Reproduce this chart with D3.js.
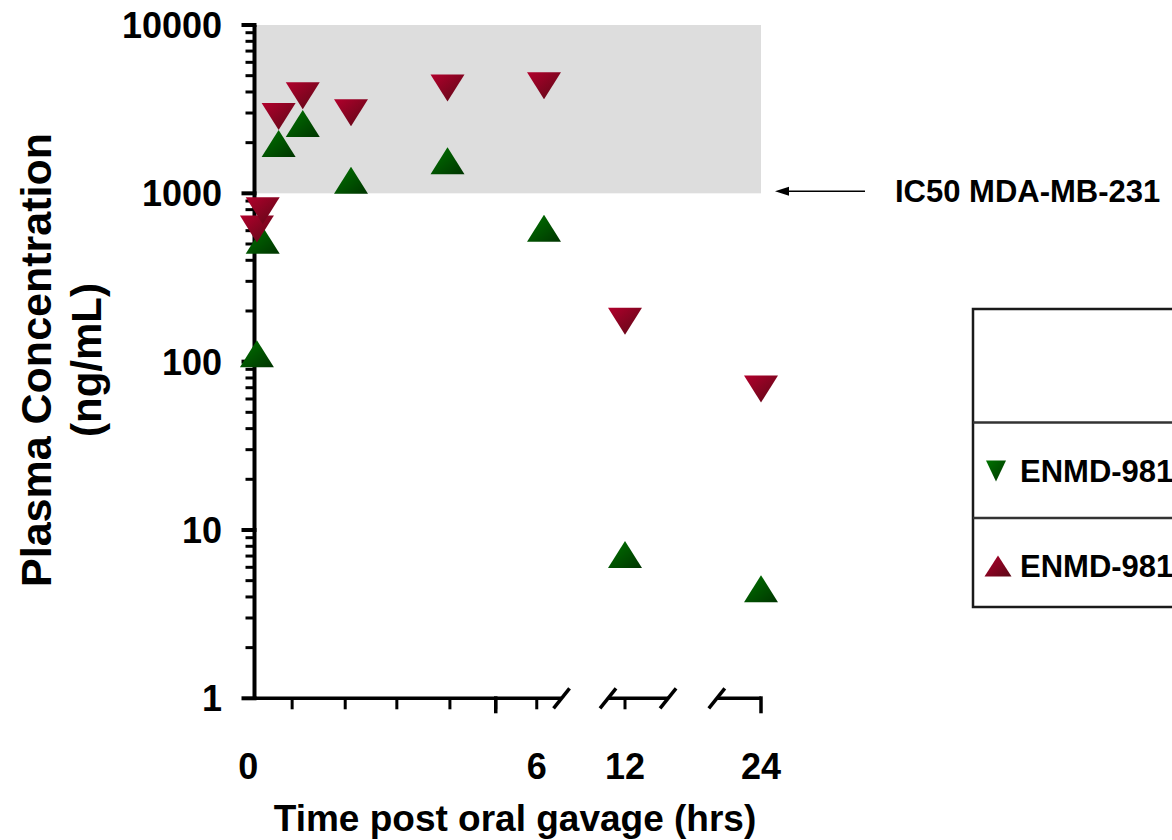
<!DOCTYPE html>
<html><head><meta charset="utf-8">
<script src="https://cdn.jsdelivr.net/npm/d3@7"></script>
<style>
body{margin:0;background:#fff}
svg{display:block}
text{font-family:"Liberation Sans",Arial,sans-serif;font-weight:bold;fill:#000}
</style>
</head><body>
<svg id="chart" width="1172" height="840"></svg>
<script>
// ---- data ----
const timesHrs     = [0.05, 0.17, 0.5, 1, 2, 4, 6, 12, 24];
const greenSeries  = [111.6, 526, 1974, 2596, 1196, 1562, 621, 7.15, 4.48];   // drawn as up-triangles
const redSeries    = [613, 789, 2857, 3802, 3006, 4230, 4357, 174, 68.8];      // drawn as down-triangles
const yTickValues  = [1, 10, 100, 1000, 10000];
const yTickLabels  = ["1", "10", "100", "1000", "10000"];
const xMinorTickHrs = [0.78, 1.88, 2.95, 4.05, 5, 5.85, 12];
const xLongTickHrs  = [5, 24];
const xTickLabels   = ["0", "6", "12", "24"];
const xTickLabelHrs = [-0.13, 5.85, 12, 24];
const xAxisSegmentsHrs = [[0, 7.3], [10.74, 15.8], [20.1, 24]];
const xBreakHrs     = [7.3, 10.74, 15.8, 20.1];
const icBand        = [1000, 10000];
const icLabel       = "IC50 MDA-MB-231";
const legendLabels  = ["ENMD-981", "ENMD-981"];
const xTitle = "Time post oral gavage (hrs)";
const yTitleLines = ["Plasma Concentration", "(ng/mL)"];

const svg = d3.select("#chart");
const x = d3.scaleLinear().domain([0, 6, 12, 24]).range([254.5, 544, 625, 761]);
const y = d3.scaleLog().domain([1, 10000]).range([698.3, 25]);

// gradients
const defs = svg.append("defs");
function grad(id, c1, c2) {
  const g = defs.append("linearGradient").attr("id", id)
    .attr("x1", 0).attr("y1", 0).attr("x2", 1).attr("y2", 1);
  g.append("stop").attr("offset", "0%").attr("stop-color", c1);
  g.append("stop").attr("offset", "100%").attr("stop-color", c2);
}
grad("gGreen", "#007400", "#003400");
grad("gRed", "#b2002c", "#5a0816");

// IC50 band
svg.append("rect")
  .attr("x", x(0)).attr("y", y(icBand[1]))
  .attr("width", x(24) - x(0)).attr("height", y(icBand[0]) - y(icBand[1]))
  .attr("fill", "#dddddd");

// y axis
const ax = x(0);
svg.append("line").attr("x1", ax).attr("x2", ax).attr("y1", y(10000)).attr("y2", y(1))
  .attr("stroke", "#000").attr("stroke-width", 4);
const minors = [];
[1, 10, 100, 1000].forEach(d => { for (let k = 2; k <= 9; k++) minors.push(d * k); });
svg.selectAll(".ymin").data(minors).enter().append("line")
  .attr("x1", ax - 9).attr("x2", ax).attr("y1", d => y(d)).attr("y2", d => y(d))
  .attr("stroke", "#000").attr("stroke-width", 3);
svg.selectAll(".ymaj").data(yTickValues).enter().append("line")
  .attr("x1", ax - 13).attr("x2", ax + 2).attr("y1", d => y(d)).attr("y2", d => y(d))
  .attr("stroke", "#000").attr("stroke-width", 4);
svg.selectAll(".ylab").data(yTickValues).enter().append("text")
  .attr("x", 222).attr("y", d => y(d) + 13)
  .attr("text-anchor", "end").attr("font-size", 36)
  .text((d, i) => yTickLabels[i]);

// x axis segments
const xa = y(1);
svg.selectAll(".xseg").data(xAxisSegmentsHrs).enter().append("line")
  .attr("x1", d => x(d[0])).attr("x2", d => x(d[1]))
  .attr("y1", xa).attr("y2", xa)
  .attr("stroke", "#000").attr("stroke-width", 3.5);
svg.selectAll(".xbrk").data(xBreakHrs).enter().append("line")
  .attr("x1", d => x(d) - 8).attr("x2", d => x(d) + 8)
  .attr("y1", xa + 10).attr("y2", xa - 10)
  .attr("stroke", "#000").attr("stroke-width", 3.5);
svg.selectAll(".xtk").data(xMinorTickHrs).enter().append("line")
  .attr("x1", d => x(d)).attr("x2", d => x(d)).attr("y1", xa).attr("y2", xa + 11)
  .attr("stroke", "#000").attr("stroke-width", 3);
svg.selectAll(".xtkl").data(xLongTickHrs).enter().append("line")
  .attr("x1", d => x(d)).attr("x2", d => x(d)).attr("y1", xa - 2).attr("y2", xa + 15)
  .attr("stroke", "#000").attr("stroke-width", 3.5);
svg.selectAll(".xlab").data(xTickLabelHrs).enter().append("text")
  .attr("x", d => x(d)).attr("y", 779)
  .attr("text-anchor", "middle").attr("font-size", 36)
  .text((d, i) => xTickLabels[i]);

// titles
svg.append("text").attr("x", 515).attr("y", 831).attr("text-anchor", "middle")
  .attr("font-size", 37).text(xTitle);
const yt = svg.append("g").attr("transform", "translate(51,360) rotate(-90)");
yt.append("text").attr("x", 0).attr("y", 0).attr("text-anchor", "middle")
  .attr("font-size", 43).text(yTitleLines[0]);
yt.append("text").attr("x", 0).attr("y", 50).attr("text-anchor", "middle")
  .attr("font-size", 42).text(yTitleLines[1]);

// triangle path
function tri(cx, cy, w, h, up) {
  return up
    ? `M${cx},${cy - h / 2}L${cx + w / 2},${cy + h / 2}L${cx - w / 2},${cy + h / 2}Z`
    : `M${cx - w / 2},${cy - h / 2}L${cx + w / 2},${cy - h / 2}L${cx},${cy + h / 2}Z`;
}

// markers: green first (red overlays it)
svg.selectAll(".g").data(greenSeries).enter().append("path")
  .attr("d", (d, i) => tri(x(timesHrs[i]), y(d), 34, 27, true))
  .attr("fill", "url(#gGreen)");
svg.selectAll(".r").data(redSeries).enter().append("path")
  .attr("d", (d, i) => tri(x(timesHrs[i]), y(d), 34, 27, false))
  .attr("fill", "url(#gRed)");

// IC50 annotation
const ay = y(icBand[0]) - 2;
svg.append("line").attr("x1", 785).attr("x2", 865).attr("y1", ay).attr("y2", ay)
  .attr("stroke", "#000").attr("stroke-width", 1.5);
svg.append("path").attr("d", `M775,${ay}L789,${ay - 4.5}L789,${ay + 4.5}Z`).attr("fill", "#000");
svg.append("text").attr("x", 895).attr("y", ay + 11).attr("font-size", 31).text(icLabel);

// legend
const lg = svg.append("g");
lg.append("rect").attr("x", 973).attr("y", 309).attr("width", 260).attr("height", 298)
  .attr("fill", "#fff").attr("stroke", "#1a1a1a").attr("stroke-width", 2.5);
[422.5, 518].forEach(v => lg.append("line").attr("x1", 973).attr("x2", 1240)
  .attr("y1", v).attr("y2", v).attr("stroke", "#333").attr("stroke-width", 2.5));
lg.append("path").attr("d", tri(996, 471, 20, 21, false)).attr("fill", "url(#gGreen)");
lg.append("path").attr("d", tri(998, 566, 27, 21, true)).attr("fill", "url(#gRed)");
lg.selectAll(".lt").data(legendLabels).enter().append("text")
  .attr("x", 1020).attr("y", (d, i) => [482, 577][i]).attr("font-size", 31).text(d => d);
</script>
</body></html>
